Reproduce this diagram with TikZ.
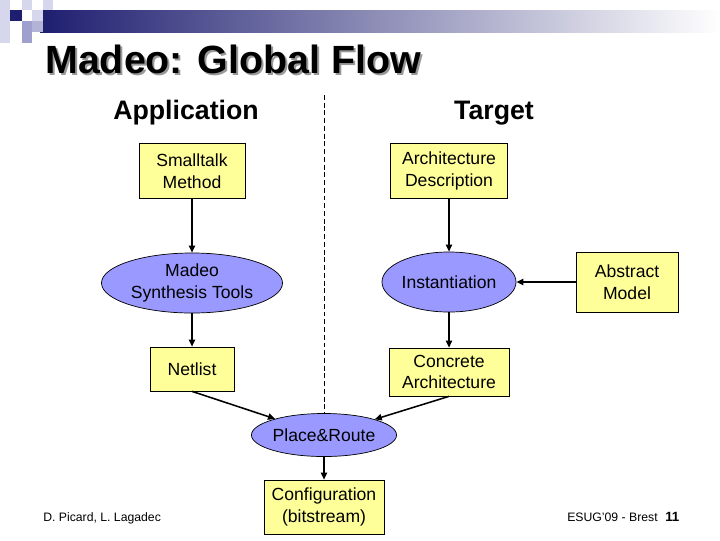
\documentclass[tikz,border=0pt]{standalone}
\usepackage{fontspec}
\setmainfont{Liberation Sans}
\usetikzlibrary{positioning, shapes.geometric, arrows.meta}

\definecolor{boxyellow}{RGB}{255,255,153}
\definecolor{ellblue}{RGB}{153,153,255}
\definecolor{navyband}{RGB}{30,30,112}
\definecolor{palelav}{RGB}{214,214,236}
\definecolor{midlav}{RGB}{160,160,206}
\newcommand{\flowfont}{\fontsize{12.5}{15.5}\selectfont}

\begin{document}
\begin{tikzpicture}[
    x=0.025cm, y=-0.025cm,
    >={Triangle[length=5pt,width=4.5pt]},
    arrow/.style={
        ->,
        line width=1.1pt
    },
    box/.style={
        rectangle,
        draw,
        fill=boxyellow,
        line width=0.5pt,
        align=center,
        font=\flowfont,
        inner sep=2pt
    },
    tool/.style={
        ellipse,
        draw,
        fill=ellblue,
        line width=0.5pt,
        align=center,
        font=\flowfont,
        inner sep=0pt
    },
    head/.style={
        font=\bfseries\fontsize{19}{22}\selectfont
    },
    foot/.style={
        font=\fontsize{8.7}{10}\selectfont,
        inner sep=0pt
    }
]

    \useasboundingbox[fill=white] (0,0) rectangle (720,540);

    % Title band
    \shade[left color=navyband, right color=white] (40,10) rectangle (720,32);
    \fill[palelav] (0,0) rectangle (10,43);
    \fill[navyband] (10,10) rectangle (22,21);
    \fill[palelav] (22,0) rectangle (32,10);
    \fill[palelav] (32,10) rectangle (43,21);
    \fill[palelav] (43,0) rectangle (53,10);
    \fill[midlav] (22,21) rectangle (32,32);
    \fill[midlav!80] (32,21) rectangle (43,32);
    \fill[midlav] (22,32) rectangle (32,43);

    % Title
    \node[anchor=base west, inner sep=0pt, text=gray!80, font=\bfseries\fontsize{28}{32}\selectfont] (titleshadow) at (47,75) {Madeo: Global Flow};
    \node[anchor=base west, inner sep=0pt, font=\bfseries\fontsize{28}{32}\selectfont] (title) at (45,73) {Madeo: Global Flow};

    % Column heads
    \node[head, anchor=base] (app) at (186,119) {Application};
    \node[head, anchor=base] (tgt) at (494,119) {Target};
    \coordinate (divtop) at (324,95);

    % Application side
    \node[box, minimum width=2.65cm, minimum height=1.375cm] (st) at (192,171) {Smalltalk\\Method};
    \node[tool, minimum width=4.525cm, minimum height=1.5cm] (mst) at (192,283) {Madeo\\Synthesis Tools};
    \node[box, minimum width=2.1cm, minimum height=1.1cm] (net) at (192,369) {Netlist};

    % Target side
    \node[box, minimum width=2.925cm, minimum height=1.375cm] (ad) at (449,171) {Architecture\\Description};
    \node[tool, minimum width=3.275cm, minimum height=1.5cm] (inst) at (449,282) {Instantiation};
    \node[box, minimum width=2.55cm, minimum height=1.5cm] (am) at (627,282) {Abstract\\Model};
    \node[box, minimum width=3.0cm, minimum height=1.2cm] (ca) at (449,372) {Concrete\\Architecture};

    % Back end
    \node[tool, minimum width=3.3cm, minimum height=1.075cm] (pr) at (324,435) {Place\&Route};
    \node[box, minimum width=3.0cm, minimum height=1.35cm] (cfg) at (324,507) {Configuration\\(bitstream)};

    % Divider
    \draw[line width=0.5pt, dash pattern=on 3.5pt off 2pt] (divtop) -- (pr.north);

    % Connections
    \draw[arrow] (st) -- (mst);
    \draw[arrow] (mst) -- (net);
    \draw[arrow] (ad) -- (inst);
    \draw[arrow] (am) -- (inst);
    \draw[arrow] (inst) -- (ca);
    \draw[arrow] (net.south) -- (pr);
    \draw[arrow] (ca.south) -- (pr);
    \draw[arrow] (pr) -- (cfg);

    % Footer
    \node[foot, anchor=base west] (authors) at (43,521) {D. Picard, L. Lagadec};
    \node[foot, anchor=base east] (venue) at (658,521) {ESUG'09 - Brest};
    \node[foot, anchor=base west, font=\bfseries\fontsize{9.5}{11}\selectfont] (page) at (665,521) {11};

\end{tikzpicture}
\end{document}
